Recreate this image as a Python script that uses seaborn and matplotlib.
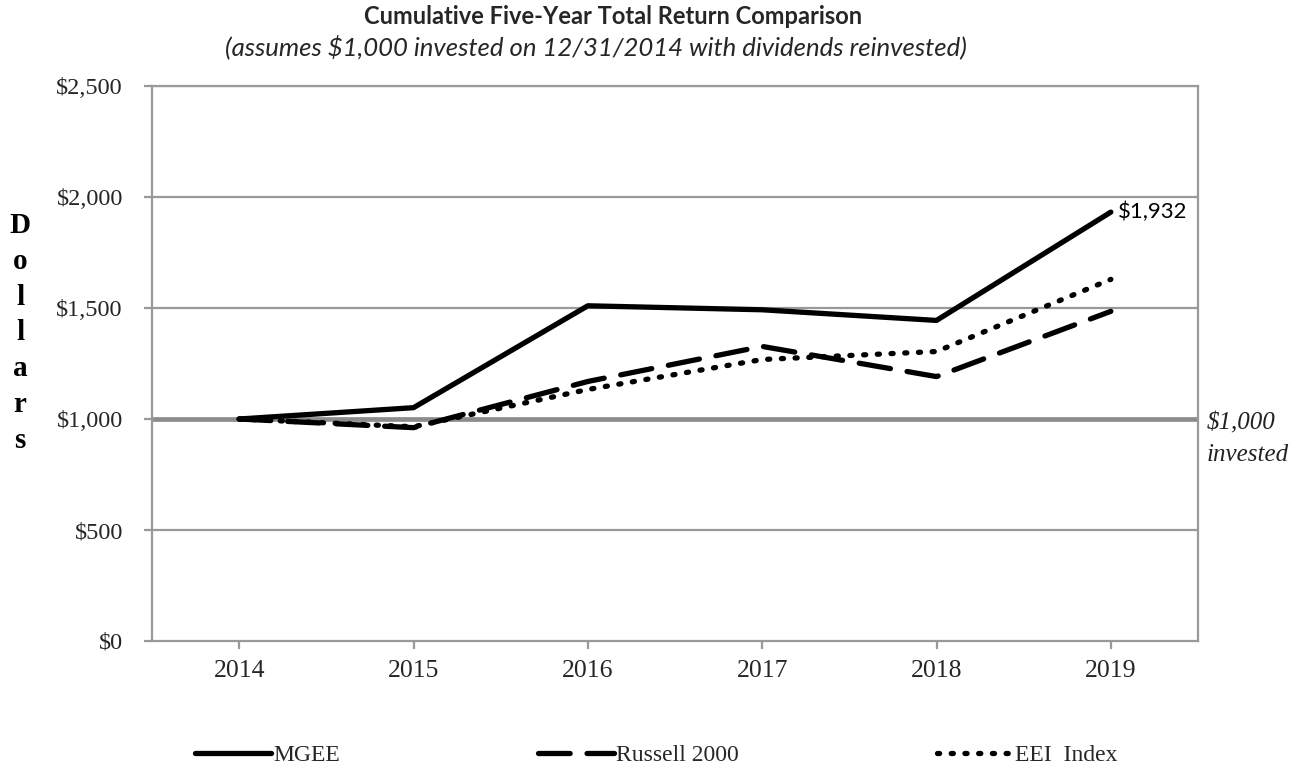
import matplotlib
matplotlib.use("Agg")
import matplotlib.pyplot as plt
import seaborn as sns
import pandas as pd
from matplotlib.lines import Line2D

years = [2014, 2015, 2016, 2017, 2018, 2019]
mgee = [1000, 1051, 1510, 1492, 1444, 1932]
russell = [1000, 961, 1169, 1327, 1191, 1485]
eei = [1000, 965, 1133, 1268, 1304, 1629]
series_names = ["MGEE", "Russell 2000", "EEI  Index"]
yticks = [0, 500, 1000, 1500, 2000, 2500]

df = pd.DataFrame({
    "Year": years * 3,
    "Value": mgee + russell + eei,
    "Series": [series_names[0]] * 6 + [series_names[1]] * 6 + [series_names[2]] * 6,
})

sns.set_theme(style="white")
plt.rcParams["font.family"] = ["Liberation Serif", "DejaVu Serif"]

fig = plt.figure(figsize=(13.14, 7.70), dpi=100)
ax = fig.add_axes([152 / 1314, 1 - 641 / 770, (1198 - 152) / 1314, (641 - 86) / 770])

grid_c = "#999999"
for v in yticks[1:]:
    if v == 1000:
        ax.axhline(v, color="#8c8c8c", lw=3.4, zorder=1)
    else:
        ax.axhline(v, color=grid_c, lw=1.6, zorder=1)

dash_map = {series_names[0]: "", series_names[1]: (6, 3.2), series_names[2]: (0.4, 2.2)}
sns.lineplot(data=df, x="Year", y="Value", style="Series", dashes=dash_map,
             color="black", linewidth=3.8, ax=ax, legend=False, zorder=3)
for ln in ax.lines:
    if ln.get_zorder() == 3:
        ln.set_dash_capstyle("round")
        ln.set_solid_capstyle("round")

ax.set_xlim(2013.5, 2019.5)
ax.set_ylim(0, 2500)
ax.set_xticks(years)
ax.set_xticklabels([str(y) for y in years], fontsize=18.5)
ax.set_yticks(yticks)
ax.set_yticklabels(["$0", "$500", "$1,000", "$1,500", "$2,000", "$2,500"], fontsize=17.5)
ax.set_xlabel("")
ax.set_ylabel("")
ax.tick_params(axis="both", which="both", direction="out", length=6, width=1.6,
               color=grid_c, bottom=True, left=True)
ax.tick_params(axis="y", pad=15)
ax.tick_params(axis="x", pad=8)
for s in ["left", "right", "top", "bottom"]:
    ax.spines[s].set_color(grid_c)
    ax.spines[s].set_linewidth(1.6)

# end label
ax.text(2019.04, 1932, "$1,932", fontsize=16, family=["Lato", "DejaVu Sans"],
        ha="left", va="center", color="black")

# $1,000 invested note
fig.text(1207 / 1314, 1 - 423 / 770, "$1,000", fontsize=18, style="italic",
         ha="left", va="center", color="#222222")
fig.text(1207 / 1314, 1 - 455 / 770, "invested", fontsize=18, style="italic",
         ha="left", va="center", color="#222222")

# vertical stacked y label
fig.text(20 / 1314, 1 - 333 / 770, "\n".join("Dollars"), fontsize=21, fontweight="bold",
         ha="center", va="center", linespacing=1.42, color="black")

# titles
fig.text(0.4665, 1 - 17 / 770, "Cumulative Five-Year Total Return Comparison",
         fontsize=17, fontweight="bold", family=["Lato", "DejaVu Sans"],
         ha="center", va="center")
fig.text(0.4535, 1 - 47 / 770, "(assumes $1,000 invested on 12/31/2014 with dividends reinvested)",
         fontsize=18.5, style="italic", family=["Lato", "DejaVu Sans"],
         ha="center", va="center")

handles = [
    Line2D([], [], color="black", lw=3.8, linestyle="-", solid_capstyle="round"),
    Line2D([], [], color="black", lw=3.8, linestyle=(0, (6, 3.2)), dash_capstyle="round"),
    Line2D([], [], color="black", lw=3.8, linestyle=(0, (0.4, 2.2)), dash_capstyle="round"),
]
fig.legend(handles, series_names, loc="center left", bbox_to_anchor=(195 / 1314, 1 - 755 / 770),
           ncol=3, frameon=False, fontsize=17, handlelength=3.2, handletextpad=0.1,
           columnspacing=8.4, borderaxespad=0, borderpad=0)

fig.savefig("out.png", dpi=100)
